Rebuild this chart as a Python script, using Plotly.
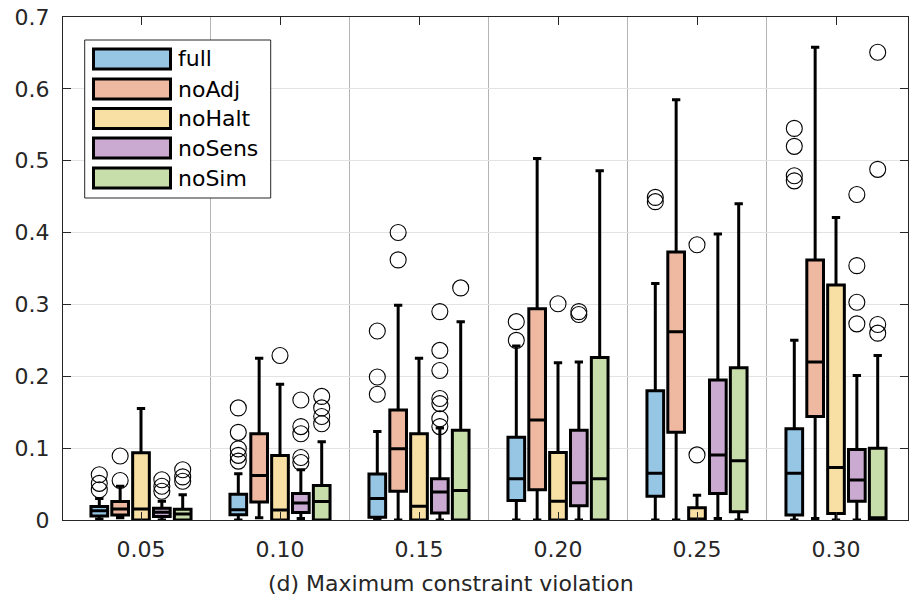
import plotly.graph_objects as go

# Maximum constraint violation per variant, grouped by violation threshold
categories = ["0.05", "0.10", "0.15", "0.20", "0.25", "0.30"]
series_names = ["full", "noAdj", "noHalt", "noSens", "noSim"]
series_colors = ["#97C5E4", "#EFB9A1", "#F8DFA4", "#CAAAD1", "#C7DDAA"]

full_q1 = [0.0056, 0.0074, 0.004, 0.027, 0.033, 0.007]
full_med = [0.013, 0.0143, 0.030, 0.0575, 0.065, 0.065]
full_q3 = [0.0187, 0.036, 0.064, 0.115, 0.180, 0.127]
full_lo = [0.001, 0.0, 0.0, 0.0, 0.0, 0.0]
full_hi = [0.030, 0.0645, 0.123, 0.242, 0.329, 0.250]
full_out = [[0.063, 0.051, 0.042], [0.156, 0.122, 0.099, 0.090, 0.082],
            [0.263, 0.199, 0.175], [0.276, 0.250], [0.449, 0.443],
            [0.545, 0.520, 0.479, 0.472]]

noadj_q1 = [0.007, 0.025, 0.040, 0.042, 0.122, 0.144]
noadj_med = [0.0154, 0.062, 0.099, 0.139, 0.262, 0.220]
noadj_q3 = [0.0257, 0.120, 0.153, 0.294, 0.373, 0.362]
noadj_lo = [0.003, 0.003, 0.0, 0.0, 0.0, 0.002]
noadj_hi = [0.047, 0.225, 0.299, 0.503, 0.585, 0.658]
noadj_out = [[0.089, 0.055], [], [0.400, 0.362], [], [], []]

nohalt_q1 = [0.0, 0.0, 0.0, 0.0, 0.0, 0.009]
nohalt_med = [0.0154, 0.0138, 0.019, 0.026, 0.0, 0.073]
nohalt_q3 = [0.0935, 0.0898, 0.120, 0.094, 0.017, 0.327]
nohalt_lo = [0.0, 0.0, 0.0, 0.0, 0.0, 0.0]
nohalt_hi = [0.155, 0.189, 0.225, 0.219, 0.0345, 0.421]
nohalt_out = [[], [0.229], [], [0.301], [0.383, 0.0906], []]

nosens_q1 = [0.0047, 0.0106, 0.0096, 0.020, 0.037, 0.026]
nosens_med = [0.0108, 0.0235, 0.039, 0.052, 0.0906, 0.0556]
nosens_q3 = [0.0164, 0.0369, 0.0575, 0.125, 0.195, 0.098]
nosens_lo = [0.0, 0.002, 0.0, 0.0, 0.002, 0.0]
nosens_hi = [0.026, 0.070, 0.128, 0.220, 0.398, 0.201]
nosens_out = [[0.056, 0.047, 0.040], [0.167, 0.130, 0.120, 0.087, 0.080],
              [0.290, 0.236, 0.208, 0.169, 0.162, 0.141, 0.130],
              [0.290, 0.286], [], [0.453, 0.354, 0.303, 0.273]]

nosim_q1 = [0.0, 0.0, 0.0, 0.0, 0.0115, 0.0]
nosim_med = [0.0084, 0.0258, 0.041, 0.0575, 0.0825, 0.003]
nosim_q3 = [0.015, 0.048, 0.125, 0.226, 0.212, 0.100]
nosim_lo = [0.0, 0.0, 0.0, 0.0, 0.0, 0.0]
nosim_hi = [0.035, 0.109, 0.276, 0.486, 0.440, 0.229]
nosim_out = [[0.070, 0.060, 0.054], [0.172, 0.156, 0.144, 0.134],
             [0.323], [], [], [0.651, 0.488, 0.272, 0.260]]

stats = [
    (full_q1, full_med, full_q3, full_lo, full_hi, full_out),
    (noadj_q1, noadj_med, noadj_q3, noadj_lo, noadj_hi, noadj_out),
    (nohalt_q1, nohalt_med, nohalt_q3, nohalt_lo, nohalt_hi, nohalt_out),
    (nosens_q1, nosens_med, nosens_q3, nosens_lo, nosens_hi, nosens_out),
    (nosim_q1, nosim_med, nosim_q3, nosim_lo, nosim_hi, nosim_out),
]

FONT = "DejaVu Sans"
TXT = "#262626"
W, H = 909, 603
ML, MR, MT, MB = 63, 1, 17, 83
PW, PH = W - ML - MR, H - MT - MB

offsets = [-0.3, -0.15, 0.0, 0.15, 0.3]
box_w = 0.12
centers = list(range(1, len(categories) + 1))

fig = go.Figure()
for (name, color, off, st) in zip(series_names, series_colors, offsets, stats):
    q1, med, q3, lo, hi, outs = st
    xs = [c + off for c in centers]
    fig.add_trace(go.Box(
        x=xs, q1=q1, median=med, q3=q3, lowerfence=lo, upperfence=hi,
        width=box_w, whiskerwidth=0.5, fillcolor=color,
        line=dict(color="black", width=3), boxpoints=False,
        name=name, showlegend=False, hoverinfo="skip",
    ))
    ox, oy = [], []
    for c, vals in zip(centers, outs):
        for v in vals:
            ox.append(c + off)
            oy.append(v)
    fig.add_trace(go.Scatter(
        x=ox, y=oy, mode="markers", showlegend=False, hoverinfo="skip",
        marker=dict(symbol="circle-open", size=16, color="black",
                    line=dict(width=1.1, color="black")),
    ))


def px_x(p):
    return (p - ML) / PW


def px_y(p):
    return (MT + PH - p) / PH


# legend panel
shapes = [dict(type="rect", xref="paper", yref="paper",
               x0=px_x(84.7), x1=px_x(270.7), y0=px_y(198), y1=px_y(40),
               fillcolor="white", line=dict(color=TXT, width=1), layer="above")]
annotations = []
row_centers = [59, 89, 118.5, 148, 178]
for name, color, cy in zip(series_names, series_colors, row_centers):
    shapes.append(dict(type="rect", xref="paper", yref="paper",
                       x0=px_x(93.5), x1=px_x(170.5),
                       y0=px_y(cy + 10), y1=px_y(cy - 10),
                       fillcolor=color, line=dict(color="black", width=3),
                       layer="above"))
    annotations.append(dict(text=name, xref="paper", yref="paper",
                            x=px_x(176), y=px_y(cy), xanchor="left",
                            yanchor="middle", showarrow=False,
                            font=dict(family=FONT, size=22, color="black")))

annotations.append(dict(text="(d) Maximum constraint violation",
                        xref="paper", yref="paper", x=px_x(451), y=px_y(583),
                        xanchor="center", yanchor="middle", showarrow=False,
                        font=dict(family=FONT, size=22, color=TXT)))

fig.update_layout(
    width=W, height=H,
    margin=dict(l=ML, r=MR, t=MT, b=MB, pad=0),
    paper_bgcolor="white", plot_bgcolor="white",
    boxmode="overlay",
    shapes=shapes, annotations=annotations,
    font=dict(family=FONT, size=22, color=TXT),
)
fig.update_xaxes(
    range=[1 - 78 / 139, 6 + 72 / 139],
    tickmode="array", tickvals=centers, ticktext=categories,
    showgrid=False, zeroline=False,
    showline=True, linecolor=TXT, linewidth=1, mirror="ticks",
    ticks="inside", ticklen=8, tickcolor=TXT, ticklabelstandoff=10,
    tickfont=dict(family=FONT, size=22, color=TXT),
    minor=dict(tickmode="array", tickvals=[1.5, 2.5, 3.5, 4.5, 5.5],
               showgrid=True, gridcolor="#b4b4b4", gridwidth=1, ticks=""),
)
fig.update_yaxes(
    range=[0, 0.7], tickmode="array",
    tickvals=[0, 0.1, 0.2, 0.3, 0.4, 0.5, 0.6, 0.7],
    ticktext=["0", "0.1", "0.2", "0.3", "0.4", "0.5", "0.6", "0.7"],
    showgrid=True, gridcolor="#e3e3e3", gridwidth=1, zeroline=False,
    showline=True, linecolor=TXT, linewidth=1, mirror="ticks",
    ticks="inside", ticklen=8, tickcolor=TXT, ticklabelstandoff=8,
    tickfont=dict(family=FONT, size=22, color=TXT),
)

fig.write_html("out.html")
